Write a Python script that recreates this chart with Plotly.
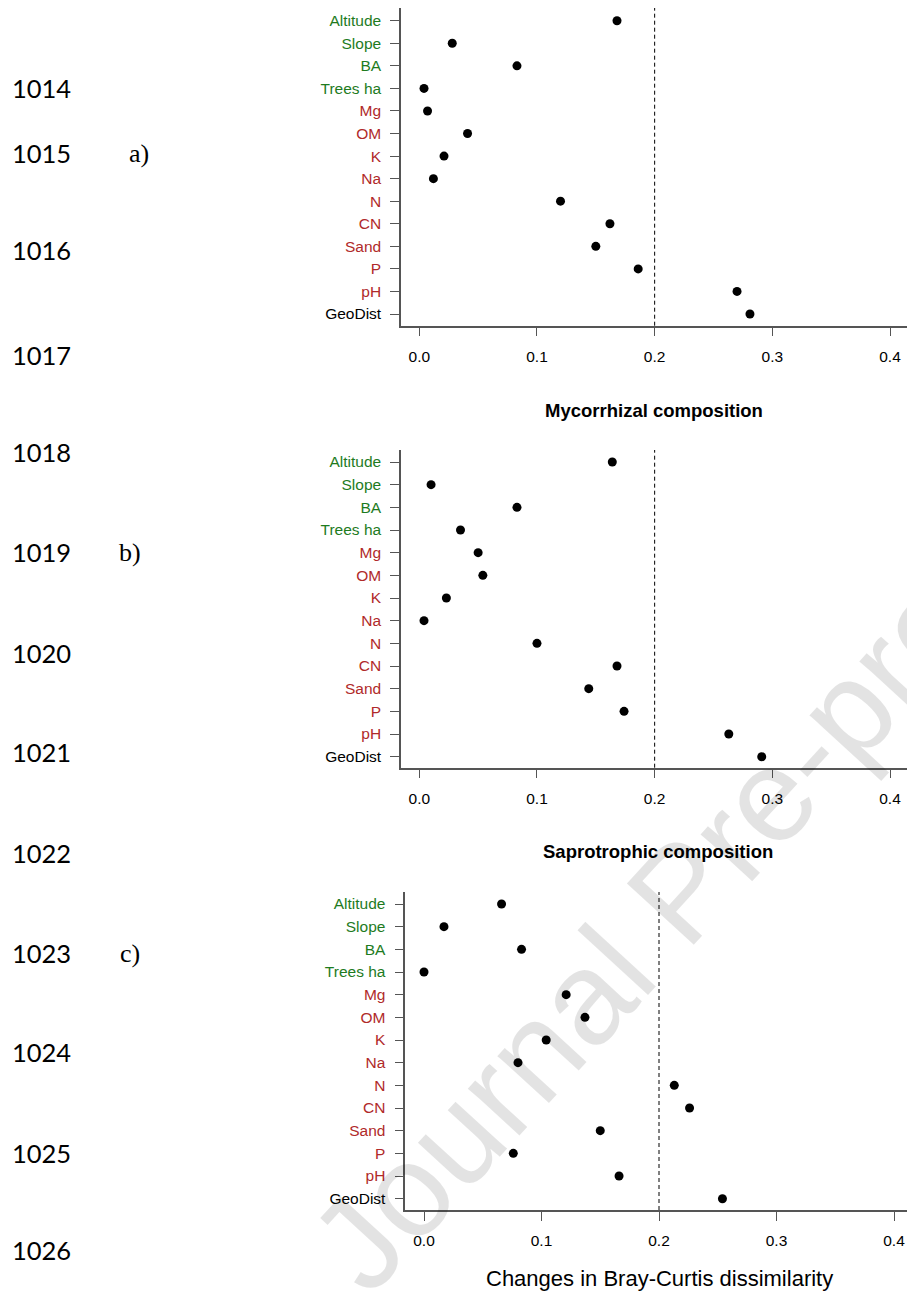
import plotly.graph_objects as go

W, H = 907, 1292

# ---------------- data ----------------
variables = ["Altitude", "Slope", "BA", "Trees ha", "Mg", "OM", "K", "Na",
             "N", "CN", "Sand", "P", "pH", "GeoDist"]
var_group = ["site", "site", "site", "site", "soil", "soil", "soil", "soil",
             "soil", "soil", "soil", "soil", "soil", "geo"]

total_vals = [0.168, 0.028, 0.083, 0.004, 0.007, 0.041, 0.021, 0.012,
              0.120, 0.162, 0.150, 0.186, 0.270, 0.281]
mycorrhizal_vals = [0.164, 0.010, 0.083, 0.035, 0.050, 0.054, 0.023, 0.004,
                    0.100, 0.168, 0.144, 0.174, 0.263, 0.291]
saprotrophic_vals = [0.066, 0.017, 0.083, 0.000, 0.121, 0.137, 0.104, 0.080,
                     0.213, 0.226, 0.150, 0.076, 0.166, 0.254]

panel_titles = ["", "Mycorrhizal composition", "Saprotrophic composition"]
panel_letters = ["a)", "b)", "c)"]
x_tick_vals = [0.0, 0.1, 0.2, 0.3, 0.4]
x_tick_text = ["0.0", "0.1", "0.2", "0.3", "0.4"]
threshold = 0.2
x_title = "Changes in Bray-Curtis dissimilarity"
line_numbers = ["1014", "1015", "1016", "1017", "1018", "1019", "1020",
                "1021", "1022", "1023", "1024", "1025", "1026"]
watermark = "Journal Pre-proof"

# ---------------- styling / layout (pixels) ----------------
group_colors = {"site": "#1e7b1e", "soil": "#b02a2a", "geo": "#000000"}
FONT = "Liberation Sans, Arial, sans-serif"

# per panel: y-axis x px, x=0 px, x=0.4 px, axis top px, Altitude px, GeoDist px, x-axis px
panels = [
    dict(ax=401.0, x0=419.3, x4=890.0, top=8.0, ytop=20.7, ybot=314.0, bot=325.7),
    dict(ax=401.0, x0=419.3, x4=890.0, top=450.0, ytop=462.0, ybot=756.7, bot=767.7),
    dict(ax=405.3, x0=424.0, x4=894.0, top=892.0, ytop=904.0, ybot=1198.7, bot=1210.0),
]
line_num_y = [88, 153, 250, 355, 452, 552, 653, 752, 853, 953, 1052, 1153, 1250]
letter_pos = [(139, 153), (130, 552), (130, 953)]
title_pos = [None, (654, 410), (658, 852)]


def px(x, y):
    return x / W, 1 - y / H


n = len(variables)
ypos = list(range(n - 1, -1, -1))  # Altitude top, GeoDist bottom
ticktext = [f'<span style="color:{group_colors[g]}">{v}</span>'
            for v, g in zip(variables, var_group)]

fig = go.Figure()
series = [total_vals, mycorrhizal_vals, saprotrophic_vals]
layout_axes = {}
shapes = []
annotations = []

for i, (vals, p) in enumerate(zip(series, panels)):
    k = "" if i == 0 else str(i + 1)
    xa, ya = f"x{k}", f"y{k}"
    fig.add_trace(go.Scatter(
        x=vals, y=ypos, mode="markers", xaxis=xa, yaxis=ya,
        marker=dict(size=9, color="black"), showlegend=False, hoverinfo="x+y"))
    ppu = (p["x4"] - p["x0"]) / 0.4
    xr = [-(p["x0"] - p["ax"]) / ppu, (W - p["x0"]) / ppu]
    spu = (p["ybot"] - p["ytop"]) / (n - 1)
    yr = [-(p["bot"] - p["ybot"]) / spu, (n - 1) + (p["ytop"] - p["top"]) / spu]
    layout_axes[f"xaxis{k}"] = dict(
        domain=[p["ax"] / W, 1.0], range=xr, anchor=ya,
        tickvals=x_tick_vals, ticktext=x_tick_text,
        ticks="outside", ticklen=9, tickwidth=1.2, tickcolor="#555",
        showline=True, linecolor="#555", linewidth=1.5,
        showgrid=False, zeroline=False, automargin=False,
        tickfont=dict(family=FONT, size=15.5, color="black"),
        ticklabelstandoff=7, fixedrange=True)
    layout_axes[f"yaxis{k}"] = dict(
        domain=[1 - p["bot"] / H, 1 - p["top"] / H], range=yr, anchor=xa,
        tickvals=ypos, ticktext=ticktext,
        ticks="outside", ticklen=9, tickwidth=1.2, tickcolor="#555",
        showline=True, linecolor="#555", linewidth=1.5,
        showgrid=False, zeroline=False, automargin=False,
        tickfont=dict(family=FONT, size=15.5),
        ticklabelstandoff=6, fixedrange=True)
    shapes.append(dict(type="line", xref=xa, yref=f"{ya} domain",
                       x0=threshold, x1=threshold, y0=0, y1=1,
                       line=dict(color="black", width=1, dash="4px,3px")))
    lx, ly = px(*letter_pos[i])
    annotations.append(dict(text=panel_letters[i], x=lx, y=ly,
                            xref="paper", yref="paper", showarrow=False,
                            xanchor="center", yanchor="middle",
                            font=dict(family="Liberation Serif, Times New Roman, serif",
                                      size=26, color="black")))
    if panel_titles[i]:
        tx, ty = px(*title_pos[i])
        annotations.append(dict(text=f"<b>{panel_titles[i]}</b>", x=tx, y=ty,
                                xref="paper", yref="paper", showarrow=False,
                                xanchor="center", yanchor="middle",
                                font=dict(family=FONT, size=18.5, color="black")))

for t, y in zip(line_numbers, line_num_y):
    lx, ly = px(10, y)
    annotations.append(dict(text=t, x=lx, y=ly, xref="paper", yref="paper",
                            xanchor="left", yanchor="middle", showarrow=False,
                            font=dict(family="Lato, Noto Sans, sans-serif", size=25.5,
                                      color="black")))

tx, ty = px(659, 1278)
annotations.append(dict(text=x_title, x=tx, y=ty, xref="paper", yref="paper",
                        xanchor="center", yanchor="middle", showarrow=False,
                        font=dict(family=FONT, size=22, color="black")))

wx, wy = px(680, 892)
annotations.append(dict(text=watermark, x=wx, y=wy, xref="paper", yref="paper",
                        xanchor="center", yanchor="middle", showarrow=False,
                        textangle=-47.5,
                        font=dict(family=FONT, size=132, color="rgba(0,0,0,0.11)")))

fig.update_layout(width=W, height=H, margin=dict(l=0, r=0, t=0, b=0),
                  paper_bgcolor="white", plot_bgcolor="white",
                  shapes=shapes, annotations=annotations, **layout_axes)

fig.write_html("out.html", config={"displayModeBar": False},
               post_script="document.body.style.margin='0';")
